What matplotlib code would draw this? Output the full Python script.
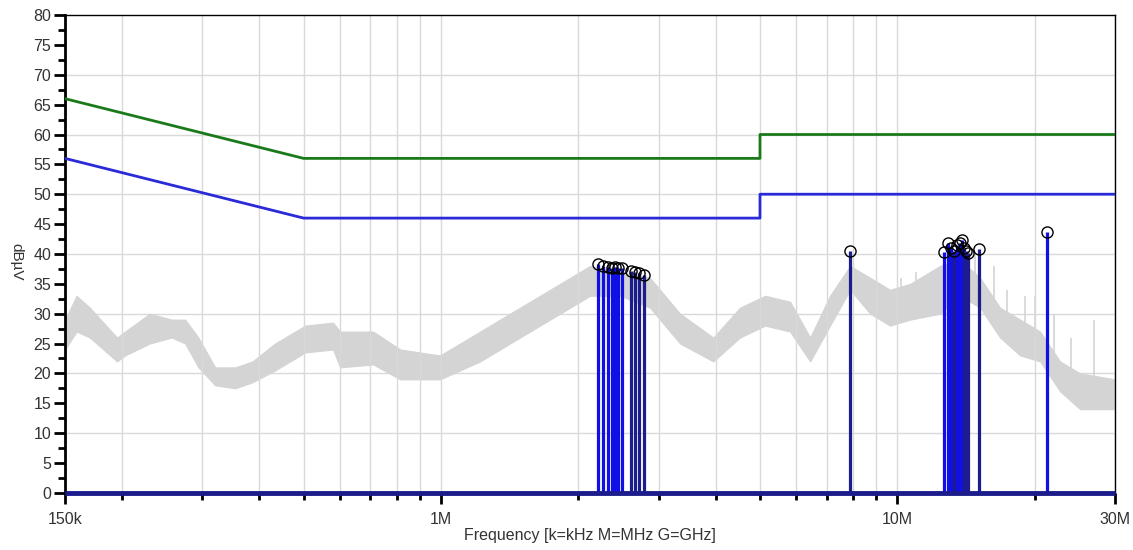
import numpy as np
import matplotlib
matplotlib.use('Agg')
import matplotlib.pyplot as plt
from matplotlib.ticker import FixedLocator, MultipleLocator, NullFormatter

plt.rcParams['font.family'] = ['Liberation Sans', 'DejaVu Sans']

# limit lines, frequency in MHz, level in dBuV
limit_f = [0.15, 0.5, 5.0, 5.0, 30.0]
qp_limit = [66, 56, 56, 60, 60]
av_limit = [56, 46, 46, 50, 50]

# measured trace, read as a lower / upper band
trace_f = [0.150, 0.159, 0.170, 0.195, 0.203, 0.230, 0.257, 0.275, 0.294, 0.320,
           0.354, 0.386, 0.433, 0.504, 0.580, 0.601, 0.710, 0.814, 0.995, 1.218,
           1.490, 1.824, 2.122, 2.469, 2.87, 3.34, 3.95, 4.52, 5.13, 5.82,
           6.44, 7.12, 7.88, 8.72, 9.64, 10.67, 12.41, 13.72, 15.18, 16.79,
           18.58, 20.55, 22.73, 25.14, 30.0]
trace_lo = [24, 27, 26, 22, 23, 25, 26, 25, 21, 18,
            17.5, 18.5, 20.5, 23.5, 24, 21, 21.5, 19, 19, 22,
            26, 30, 33, 33, 31, 25, 22, 26, 28, 27,
            22, 28, 34, 30, 28, 29, 30, 33, 31, 26,
            23, 22, 17, 14, 14]
trace_hi = [29, 33, 31, 26, 27, 30, 29, 29, 26, 21,
            21, 22, 25, 28, 28.5, 27, 27, 24, 23, 27,
            31, 35, 38, 37, 36, 30, 26, 31, 33, 32,
            26, 33, 38, 36, 34, 35, 38, 39, 36, 31,
            29, 27, 22, 20, 19]

# narrow spikes on the trace above 10 MHz
spike_f = [10.2, 11.0, 14.8, 16.3, 17.4, 19.0, 20.0, 22.0, 24.0, 27.0]
spike_lo = [30, 30, 34, 30, 27, 24, 23, 20, 16, 15]
spike_hi = [36, 37, 40, 38, 34, 33, 33, 30, 26, 29]

# peaks (QP group and AV group)
qp_peak_f = [2.21, 2.27, 2.32, 2.37, 2.41, 2.44, 2.49, 12.66, 12.92, 13.11,
             13.52, 13.73, 13.86, 21.3]
qp_peak_v = [38.3, 38.0, 37.8, 37.6, 37.8, 37.6, 37.7, 40.3, 41.8, 41.0,
             41.5, 41.8, 42.3, 43.6]
av_peak_f = [2.61, 2.66, 2.72, 2.79, 7.88, 13.31, 14.0, 14.15, 14.29, 15.1]
av_peak_v = [37.2, 37.0, 36.8, 36.4, 40.5, 40.5, 41.0, 40.5, 40.2, 40.8]

fig = plt.figure(figsize=(11.33, 5.5), dpi=100)
ax = fig.add_axes([0.0574, 0.104, 0.9268, 0.8686])

navy = '#1c1c8c'
blue = '#1010e6'

# grid
for v in range(10, 80, 10):
    ax.axhline(v, color='#d9d9d9', lw=1, zorder=0)
ax.xaxis.grid(True, which='both', color='#d9d9d9', lw=1, zorder=0)

ax.fill_between(trace_f, trace_lo, trace_hi, color='#d4d4d4', lw=0.8, zorder=1)
ax.vlines(spike_f, spike_lo, spike_hi, color='#d4d4d4', lw=1.2, zorder=1)

ax.plot(limit_f, qp_limit, color='#1a7a1a', lw=2, zorder=3)
ax.plot(limit_f, av_limit, color='#2a2ad8', lw=2, zorder=3)

ax.vlines(qp_peak_f, 0, qp_peak_v, color=blue, lw=2.3, zorder=4)
ax.vlines(av_peak_f, 0, av_peak_v, color=navy, lw=2.3, zorder=4)
ax.plot(qp_peak_f + av_peak_f, qp_peak_v + av_peak_v, 'o', mfc='none',
        mec='black', ms=8, mew=1, zorder=6)

ax.hlines(0, 0.15, 30, color=navy, lw=3.5, zorder=5, clip_on=False)

ax.set_xscale('log')
ax.set_xlim(0.15, 30)
ax.set_ylim(0, 80)

ax.xaxis.set_major_locator(FixedLocator([0.15, 1, 10, 30]))
ax.set_xticklabels(['150k', '1M', '10M', '30M'])
ax.xaxis.set_minor_locator(FixedLocator([0.2, 0.3, 0.4, 0.5, 0.6, 0.7, 0.8, 0.9,
                                         2, 3, 4, 5, 6, 7, 8, 9, 20]))
ax.xaxis.set_minor_formatter(NullFormatter())
ax.yaxis.set_major_locator(MultipleLocator(5))
ax.yaxis.set_minor_locator(MultipleLocator(2.5))

ax.tick_params(axis='both', which='major', direction='out', length=8, width=2,
               labelsize=11.5, labelcolor='#333333', color='black')
ax.tick_params(axis='both', which='minor', direction='out', length=5, width=2,
               color='black')
ax.tick_params(axis='x', which='major', pad=6)
ax.tick_params(axis='y', which='major', pad=2)

ax.spines['left'].set_linewidth(2)
ax.spines['top'].set_linewidth(1)
ax.spines['right'].set_linewidth(1)
ax.spines['bottom'].set_color(navy)

ax.set_ylabel('dBµV', fontsize=11, color='#333333', rotation=270,
              va='center', ha='center')
ax.yaxis.set_label_coords(-0.046, 0.483)
ax.set_xlabel('Frequency [k=kHz M=MHz G=GHz]', fontsize=11.5, color='#333333')
ax.xaxis.set_label_coords(0.5, -0.073)

plt.savefig('out.png', dpi=100)
